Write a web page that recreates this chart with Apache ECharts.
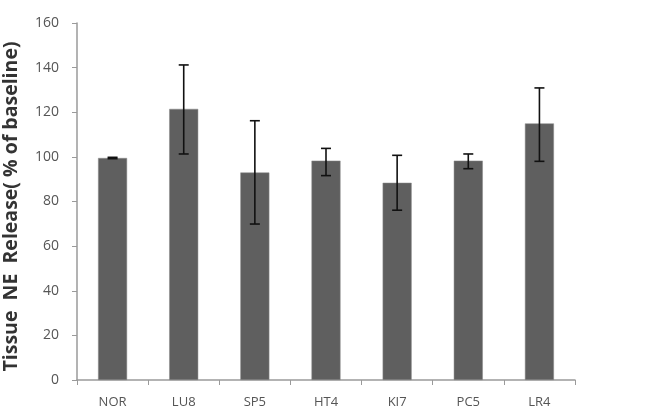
<!DOCTYPE html>
<html>
<head>
<meta charset="utf-8">
<script src="https://cdn.jsdelivr.net/npm/echarts@6/dist/echarts.min.js"></script>
<style>
  html, body { margin: 0; padding: 0; background: #fff; }
  #chart { width: 651px; height: 419px; }
</style>
</head>
<body>
<div id="chart"></div>
<script>
const categories = ['NOR', 'LU8', 'SP5', 'HT4', 'KI7', 'PC5', 'LR4'];
const means = [99.5, 121.5, 93, 98.3, 88.4, 98.3, 115];
const errLow = [99.2, 101.3, 69.9, 91.6, 76.1, 94.7, 98];
const errHigh = [99.8, 141.2, 116.2, 103.8, 100.7, 101.3, 130.9];
const yTicks = [0, 20, 40, 60, 80, 100, 120, 140, 160];

const chart = echarts.init(document.getElementById('chart'));

const errData = categories.map((c, i) => [i, errLow[i], errHigh[i]]);

chart.setOption({
  animation: false,
  grid: { left: 77, right: 76, top: 23, bottom: 39, outerBoundsMode: 'none', containLabel: false },
  xAxis: {
    type: 'category',
    data: categories,
    axisLine: { lineStyle: { color: '#9a9a9a', width: 1.5 } },
    axisTick: { show: true, length: 5, lineStyle: { color: '#9a9a9a' } },
    axisLabel: {
      color: '#555',
      fontFamily: 'Open Sans, sans-serif',
      fontSize: 13,
      margin: 16
    }
  },
  yAxis: {
    type: 'value',
    min: yTicks[0],
    max: yTicks[yTicks.length - 1],
    interval: 20,
    name: 'Tissue  NE  Release( % of baseline)',
    nameLocation: 'middle',
    nameGap: 56,
    nameTextStyle: {
      color: '#333',
      fontFamily: 'Open Sans, sans-serif',
      fontWeight: 'bold',
      fontSize: 19.5,
      padding: [0, 10, 0, 0]
    },
    axisLine: { show: true, lineStyle: { color: '#9a9a9a', width: 1.5 } },
    axisTick: { show: true, length: 5, lineStyle: { color: '#9a9a9a' } },
    splitLine: { show: false },
    axisLabel: {
      color: '#555',
      fontFamily: 'Open Sans, sans-serif',
      fontSize: 14,
      margin: 18
    }
  },
  series: [
    {
      type: 'bar',
      data: means,
      barWidth: 29,
      itemStyle: { color: '#5f5f5f', borderColor: '#8a8a8a', borderWidth: 0.5 }
    },
    {
      type: 'custom',
      data: errData,
      z: 10,
      renderItem: function (params, api) {
        const x = api.value(0);
        const lo = api.coord([x, api.value(1)]);
        const hi = api.coord([x, api.value(2)]);
        const hw = 5;
        const style = { stroke: '#111', lineWidth: 1.6 };
        return {
          type: 'group',
          children: [
            { type: 'line', shape: { x1: hi[0], y1: hi[1], x2: lo[0], y2: lo[1] }, style: style },
            { type: 'line', shape: { x1: hi[0] - hw, y1: hi[1], x2: hi[0] + hw, y2: hi[1] }, style: style },
            { type: 'line', shape: { x1: lo[0] - hw, y1: lo[1], x2: lo[0] + hw, y2: lo[1] }, style: style }
          ]
        };
      }
    }
  ]
});
</script>
</body>
</html>
